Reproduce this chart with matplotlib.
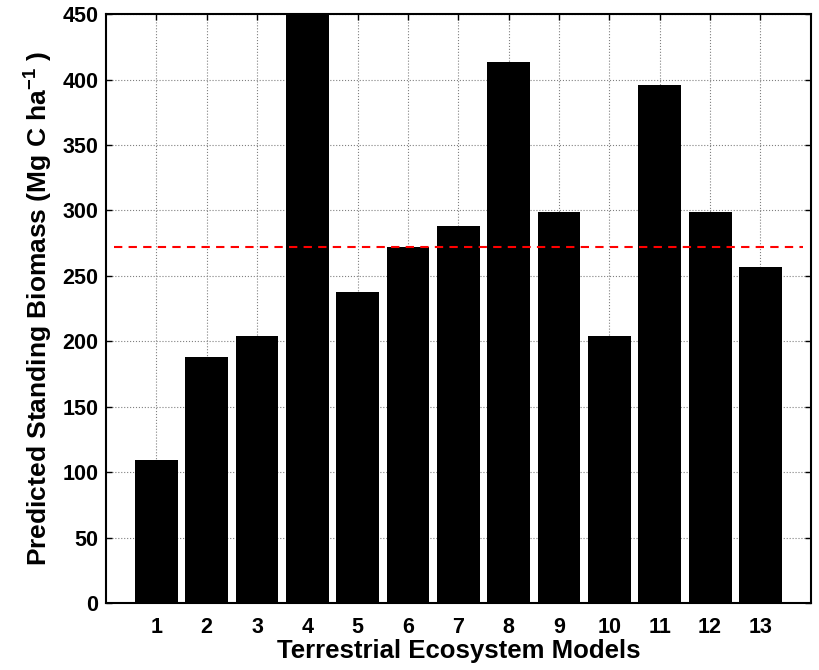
import numpy as np
import matplotlib
matplotlib.use('Agg')
import matplotlib.pyplot as plt

plt.rcParams['font.family'] = ['Liberation Sans', 'DejaVu Sans']
plt.rcParams['font.weight'] = 'bold'
plt.rcParams['mathtext.fontset'] = 'custom'
plt.rcParams['mathtext.rm'] = 'Liberation Sans:bold'
plt.rcParams['mathtext.bf'] = 'Liberation Sans:bold'

models = [1, 2, 3, 4, 5, 6, 7, 8, 9, 10, 11, 12, 13]
biomass = [109, 188, 204, 520, 238, 272, 288, 413, 299, 204, 396, 299, 257]
median_line = 272

fig = plt.figure(figsize=(8.19, 6.70), dpi=100)
ax = fig.add_axes([0.1294, 0.1, 0.8606, 0.879])

ax.bar(models, biomass, width=0.85, color='black', zorder=3)
ax.plot([0.15, 13.85], [median_line, median_line], color='red', linestyle=(0, (4, 3)),
        linewidth=1.5, zorder=4)

ax.set_xlim(0, 14)
ax.set_ylim(0, 450)
ax.set_xticks(models)
ax.set_yticks(np.arange(0, 451, 50))
ax.grid(True, color='gray', linestyle=':', linewidth=0.8, zorder=0)
ax.set_axisbelow(True)

ax.tick_params(direction='in', length=4, width=1, top=True, right=True,
               labelsize=15.5)
ax.tick_params(axis='x', pad=10)
ax.tick_params(axis='y', pad=5.5)
for lbl in ax.get_xticklabels() + ax.get_yticklabels():
    lbl.set_fontweight('bold')
for s in ax.spines.values():
    s.set_linewidth(1.5)

ax.set_xlabel('Terrestrial Ecosystem Models', fontsize=18.5, fontweight='bold', labelpad=1)
ax.set_ylabel('Predicted Standing Biomass (Mg C ha$^{\\mathbf{-1}}$ )', fontsize=19,
              fontweight='bold', labelpad=6)

fig.savefig('out.png', dpi=100)
